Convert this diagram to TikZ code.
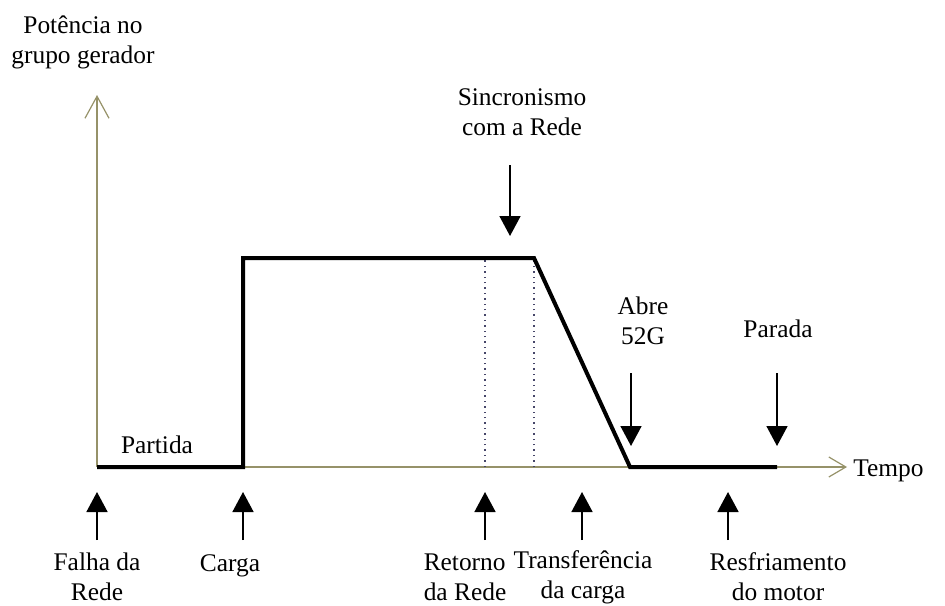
\documentclass[tikz,border=0pt]{standalone}
\usepackage{fontspec}
\setmainfont{Liberation Serif}
\usetikzlibrary{arrows.meta}
\definecolor{eixocor}{RGB}{150,146,105}
\definecolor{pontocor}{RGB}{70,70,105}
\tikzset{
  eixo/.style={color=eixocor,line width=0.6pt},
  curva/.style={line width=2pt,line join=miter},
  evento/.style={-{Triangle[length=10pt,width=10.5pt]},line width=0.8pt},
  guia/.style={dotted,color=pontocor,line width=0.7pt},
  rotulo/.style={align=center,inner sep=0pt,font=\fontsize{12.7}{15}\selectfont},
}
\begin{document}
\begin{tikzpicture}[x=0.5pt,y=-0.5pt]
\useasboundingbox (0,0) rectangle (945,605);

\coordinate (O) at (97,467);
\coordinate (ytopo) at (97,95);
\coordinate (xfim) at (847,467);
\coordinate (carga) at (243,467);
\coordinate (cargatopo) at (243,258);
\coordinate (retorno) at (485,467);
\coordinate (retornotopo) at (485,258);
\coordinate (transf) at (534,467);
\coordinate (transftopo) at (534,258);
\coordinate (abre) at (630,467);
\coordinate (parada) at (777,467);

\draw [eixo,-{Straight Barb[length=11pt,width=12pt]}] (O) -- (ytopo);
\draw [eixo,-{Straight Barb[length=8.5pt,width=10pt]}] (O) -- (xfim);
\draw [guia] (retorno) -- (retornotopo);
\draw [guia] (transf) -- (transftopo);
\draw [curva] (O) -- (carga) -- (cargatopo) -- (transftopo) -- (abre) -- (parada);

\coordinate (sincI) at (510,165);
\coordinate (sincF) at (510,236);
\coordinate (abreI) at (631,373);
\coordinate (abreF) at (631,446);
\coordinate (paradaI) at (777,373);
\coordinate (paradaF) at (777,446);
\draw [evento] (sincI) -- (sincF);
\draw [evento] (abreI) -- (abreF);
\draw [evento] (paradaI) -- (paradaF);

\coordinate (falhaI) at (97,540);
\coordinate (falhaF) at (97,492);
\coordinate (cargaI) at (243,540);
\coordinate (cargaF) at (243,492);
\coordinate (retornoI) at (485,540);
\coordinate (retornoF) at (485,492);
\coordinate (transfI) at (582,540);
\coordinate (transfF) at (582,492);
\coordinate (resfI) at (728,540);
\coordinate (resfF) at (728,492);
\draw [evento] (falhaI) -- (falhaF);
\draw [evento] (cargaI) -- (cargaF);
\draw [evento] (retornoI) -- (retornoF);
\draw [evento] (transfI) -- (transfF);
\draw [evento] (resfI) -- (resfF);

\node [rotulo] (potencia) at (83,42) {Potência no\\grupo gerador};
\node [rotulo] (sincronismo) at (522,112) {Sincronismo\\com a Rede};
\node [rotulo] (abre52) at (643,321) {Abre\\52G};
\node [rotulo,anchor=base] (paradatxt) at (778,337) {Parada};
\node [rotulo,anchor=base] (partida) at (157,453) {Partida};
\node [rotulo,anchor=base west] (tempo) at (853,476) {Tempo};
\node [rotulo] (falhatxt) at (97,577) {Falha da\\Rede};
\node [rotulo,anchor=base] (cargatxt) at (230,571) {Carga};
\node [rotulo,align=left] (retornotxt) at (465,577) {Retorno\\da Rede};
\node [rotulo] (transftxt) at (583,577) {Transferência\\da carga};
\node [rotulo] (resftxt) at (778,577) {Resfriamento\\do motor};
\end{tikzpicture}
\end{document}
